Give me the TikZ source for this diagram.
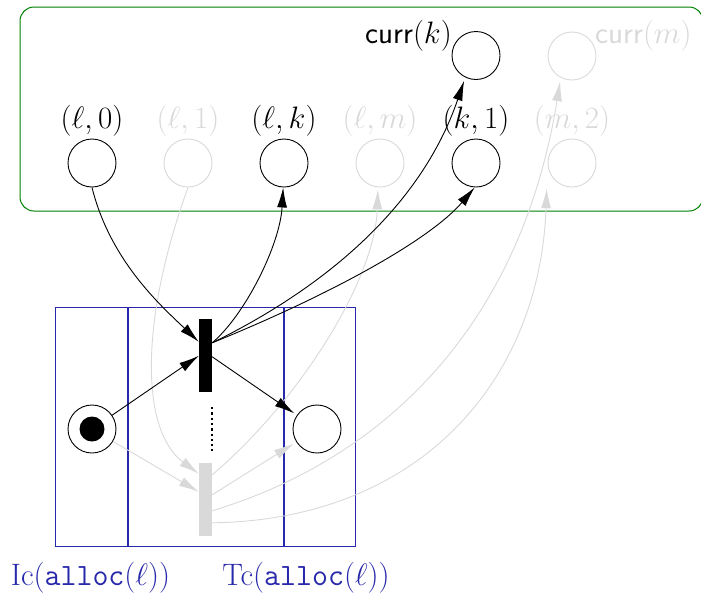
\RequirePackage{fix-cm}
\documentclass[tikz,border=0pt]{standalone}
\usepackage{fontspec}
\usetikzlibrary{arrows.meta}
\definecolor{boxgreen}{RGB}{0,128,0}
\definecolor{netblue}{RGB}{40,40,170}
\definecolor{lightg}{RGB}{217,217,217}
\tikzset{
  place/.style={circle,draw,line width=0.9pt,minimum size=48pt,inner sep=0pt},
  gplace/.style={place,draw=lightg},
  lab/.style={inner sep=0pt,font=\fontsize{31}{36}\selectfont},
  glab/.style={lab,text=lightg},
  blab/.style={lab,text=netblue,anchor=base},
  tbar/.style={rectangle,fill=black,minimum width=13pt,minimum height=73pt,inner sep=0pt},
  gbar/.style={tbar,fill=lightg},
  arc/.style={line width=0.9pt,-{Latex[length=20pt,width=10pt]}},
  garc/.style={arc,draw=lightg},
  netline/.style={draw=netblue,line width=1.1pt},
  dotsline/.style={line width=2pt,dash pattern=on 2.3pt off 3pt}
}
\begin{document}
\begin{tikzpicture}[x=1pt,y=-1pt]
\useasboundingbox (0,0) rectangle (701,592);
% green region
\draw[boxgreen,line width=1pt,rounded corners=14pt] (20,7) rectangle (703,211);
% top row places
\node[place]  (ck) at (476,55.5) {};
\node[gplace] (cm) at (572,56) {};
\node[lab,anchor=base east]  (tck) at (452,43) {\textsf{curr}$(k)$};
\node[glab,anchor=base west] (tcm) at (595,43) {\textsf{curr}$(m)$};
% second row places
\node[place]  (l0) at (92,163) {};
\node[gplace] (l1) at (188,163) {};
\node[place]  (lk) at (284,163) {};
\node[gplace] (lm) at (380,163) {};
\node[place]  (k1) at (476,163) {};
\node[gplace] (m2) at (572,163) {};
\node[lab,anchor=base]  (tl0) at (92,128) {$(\ell,0)$};
\node[glab,anchor=base] (tl1) at (188,128) {$(\ell,1)$};
\node[lab,anchor=base]  (tlk) at (284,128) {$(\ell,k)$};
\node[glab,anchor=base] (tlm) at (380,128) {$(\ell,m)$};
\node[glab,anchor=base] (tm2) at (572,128) {$(m,2)$};
% blue frame
\draw[netline] (55.5,307.5) rectangle (355.5,546.5);
\draw[netline] (128,307.5) -- (128,546.5);
\draw[netline] (284,307.5) -- (284,546.5);
\node[blab] (ic) at (90.5,585) {Ic(\texttt{alloc}($\ell$))};
\node[blab] (tc) at (306,585) {Tc(\texttt{alloc}($\ell$))};
% net
\node[place] (tp) at (92,429) {};
\fill (tp) circle (12.5pt);
\node[place] (rp) at (317,429) {};
\node[gbar] (gb) at (205.5,499.5) {};
\node[lab,anchor=base] (tk1) at (476,128) {$(k,1)$};
\node[tbar] (bar) at (205.5,355.5) {};
\coordinate (dtop) at (212,407);
\coordinate (dbot) at (212,451);
\draw[dotsline] (dtop) -- (dbot);
% gray arcs
\draw[garc] (l1.south) .. controls (140,320) and (140,430) .. ([yshift=-11pt]gb.north west);
\draw[garc] (tp) -- ([yshift=-29pt]gb.north west);
\draw[garc,shorten >=3pt] ([yshift=-32pt]gb.north east) -- (rp);
\draw[garc] ([yshift=-12pt]gb.north east) .. controls (300,400) and (375,280) .. ([yshift=-2pt]lm.-95);
\draw[garc] ([yshift=-48pt]gb.north east) .. controls (380,460) and (520,330) .. ([shift={(-1.5,3)}]cm.-115);
\draw[garc] ([yshift=-60pt]gb.north east) .. controls (420,520) and (540,380) .. ([shift={(-8,8)}]m2.south west);
% black arcs
\draw[arc] (l0.south) .. controls (110,260) and (160,305) .. ([yshift=-23pt]bar.north west);
\draw[arc] (tp) -- ([yshift=-37pt]bar.north west);
\draw[arc,shorten >=3pt] ([yshift=-38pt]bar.north east) -- (rp);
\draw[arc] ([yshift=-24pt]bar.north east) .. controls (245,315) and (280,245) .. (lk.-92);
\draw[arc] ([yshift=-24pt]bar.north east) .. controls (320,290) and (420,210) .. ([shift={(-1.5,3)}]ck.-115);
\draw[arc] ([yshift=-24pt]bar.north east) .. controls (330,295) and (430,240) .. (k1.-93);
\end{tikzpicture}
\end{document}
